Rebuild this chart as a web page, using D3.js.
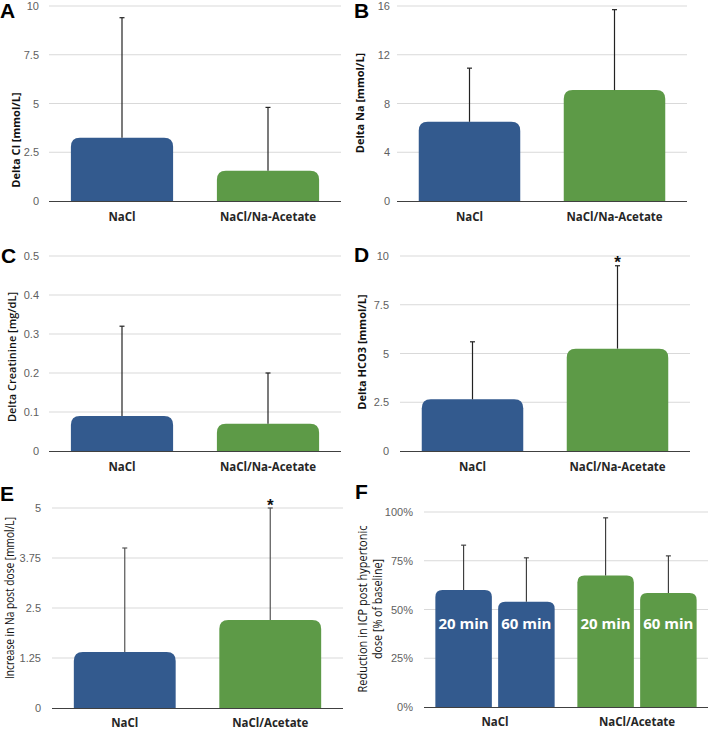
<!DOCTYPE html>
<html><head><meta charset="utf-8">
<script src="https://cdn.jsdelivr.net/npm/d3@7"></script>
<style>body{margin:0;background:#fff}svg{display:block}</style>
</head><body>
<svg id="c" width="709" height="730"></svg>
<script>
// ---- data ----
const groups2 = ["NaCl", "NaCl/Na-Acetate"];
const groupsE = ["NaCl", "NaCl/Acetate"];
const timepoints = ["20 min", "60 min"];

const deltaCl = [3.25, 1.55];       const deltaClSD = [6.15, 3.25];
const deltaNa = [6.5, 9.1];         const deltaNaSD = [4.4, 6.6];
const deltaCrea = [0.09, 0.07];     const deltaCreaSD = [0.23, 0.13];
const deltaHCO3 = [2.65, 5.25];     const deltaHCO3SD = [2.95, 4.25];
const incNa = [1.4, 2.2];           const incNaSD = [2.6, 2.8];
const icpNaCl = [60, 54];           const icpNaClSD = [23, 22.5];
const icpAcetate = [67.5, 58.5];    const icpAcetateSD = [29.5, 19];

const ticksA = [0, 2.5, 5, 7.5, 10];
const ticksB = [0, 4, 8, 12, 16];
const ticksC = [0, 0.1, 0.2, 0.3, 0.4, 0.5];
const ticksD = [0, 2.5, 5, 7.5, 10];
const ticksE = [0, 1.25, 2.5, 3.75, 5];
const ticksF = [0, 25, 50, 75, 100];

const BLUE = "#335a8e", GREEN = "#5d9a47";
const colors = [BLUE, GREEN];

const svg = d3.select("#c");

function topRounded(x, y, w, y0, r) {
  r = Math.min(r, w / 2, Math.max(0, y0 - y));
  return `M${x},${y0}V${y + r}Q${x},${y} ${x + r},${y}H${x + w - r}Q${x + w},${y} ${x + w},${y + r}V${y0}Z`;
}

function panel(cfg) {
  const g = svg.append("g");
  const y = d3.scaleLinear().domain([0, cfg.ticks[cfg.ticks.length - 1]]).range([cfg.y1, cfg.y0]);
  g.selectAll("line.grid").data(cfg.ticks.filter(t => t > 0)).join("line")
    .attr("x1", cfg.x0).attr("x2", cfg.x1)
    .attr("y1", d => y(d)).attr("y2", d => y(d))
    .attr("stroke", "#d9d9d9").attr("stroke-width", 1);
  const ax = g.append("g").attr("transform", `translate(${cfg.tickX},0)`)
    .call(d3.axisLeft(y).tickValues(cfg.ticks).tickSize(0).tickPadding(0).tickFormat(cfg.fmt));
  ax.select(".domain").remove();
  ax.selectAll("text").attr("font-family", "Liberation Sans, Arial, sans-serif")
    .attr("font-size", 11).attr("fill", "#5f5f5f").attr("text-anchor", "end");

  const x = d3.scaleBand().domain(cfg.cats).range([cfg.x0, cfg.x1]).paddingInner(cfg.pi).paddingOuter(cfg.po);

  if (!cfg.sub) {
    const bars = cfg.cats.map((c, i) => ({c, v: cfg.vals[i], sd: cfg.sds[i], col: colors[i]}));
    g.selectAll("path.bar").data(bars).join("path")
      .attr("d", d => topRounded(x(d.c), y(d.v), x.bandwidth(), y(0), 9))
      .attr("fill", d => d.col);
    g.selectAll("line.err").data(bars).join("line").attr("class", "err")
      .attr("x1", d => x(d.c) + x.bandwidth() / 2).attr("x2", d => x(d.c) + x.bandwidth() / 2)
      .attr("y1", d => y(d.v)).attr("y2", d => y(d.v + d.sd))
      .attr("stroke", cfg.errCol || "#222").attr("stroke-width", 1.2);
    g.selectAll("line.cap").data(bars).join("line").attr("class", "cap")
      .attr("x1", d => x(d.c) + x.bandwidth() / 2 - 2.5).attr("x2", d => x(d.c) + x.bandwidth() / 2 + 2.5)
      .attr("y1", d => y(d.v + d.sd)).attr("y2", d => y(d.v + d.sd))
      .attr("stroke", cfg.errCol || "#222").attr("stroke-width", 1.2);
    if (cfg.star != null) {
      const d = bars[cfg.star];
      g.append("text").attr("x", x(d.c) + x.bandwidth() / 2).attr("y", cfg.starY)
        .attr("text-anchor", "middle").attr("font-family", "Liberation Sans, Arial, sans-serif")
        .attr("font-weight", "bold").attr("font-size", 17).attr("fill", "#111").text("*");
    }
  } else {
    const x1 = d3.scaleBand().domain(timepoints).range([0, x.bandwidth()]).paddingInner(0.1);
    cfg.cats.forEach((c, i) => {
      const bars = timepoints.map((t, j) => ({t, v: cfg.sub[i][j], sd: cfg.subSD[i][j]}));
      const gg = g.append("g").attr("transform", `translate(${x(c)},0)`);
      gg.selectAll("path").data(bars).join("path")
        .attr("d", d => topRounded(x1(d.t), y(d.v), x1.bandwidth(), y(0), 7))
        .attr("fill", colors[i]);
      gg.selectAll("line.err").data(bars).join("line").attr("class", "err")
        .attr("x1", d => x1(d.t) + x1.bandwidth() / 2).attr("x2", d => x1(d.t) + x1.bandwidth() / 2)
        .attr("y1", d => y(d.v)).attr("y2", d => y(d.v + d.sd))
        .attr("stroke", "#333").attr("stroke-width", 1.1);
      gg.selectAll("line.cap").data(bars).join("line").attr("class", "cap")
        .attr("x1", d => x1(d.t) + x1.bandwidth() / 2 - 2.5).attr("x2", d => x1(d.t) + x1.bandwidth() / 2 + 2.5)
        .attr("y1", d => y(d.v + d.sd)).attr("y2", d => y(d.v + d.sd))
        .attr("stroke", "#333").attr("stroke-width", 1.1);
      gg.selectAll("text.bl").data(bars).join("text").attr("class", "bl")
        .attr("x", d => x1(d.t) + x1.bandwidth() / 2).attr("y", cfg.barTextY)
        .attr("text-anchor", "middle").attr("font-family", "Open Sans, sans-serif")
        .attr("font-weight", "bold").attr("font-size", 15).attr("fill", "#fff").text(d => d.t);
    });
  }
  g.append("line").attr("x1", cfg.x0).attr("x2", cfg.x1).attr("y1", y(0) + 0.5).attr("y2", y(0) + 0.5)
    .attr("stroke", "#404040").attr("stroke-width", 1.2);
  g.selectAll("text.cat").data(cfg.cats).join("text").attr("class", "cat")
    .attr("x", d => x(d) + x.bandwidth() / 2).attr("y", cfg.catY)
    .attr("text-anchor", "middle").attr("font-family", "Open Sans, sans-serif")
    .attr("font-weight", "bold").attr("font-size", 11.5).attr("fill", "#262626").text(d => d);
  const dx = cfg.titleDX || 0;
  cfg.title.forEach((line, k) => {
    const t = g.append("text").attr("transform", `translate(${cfg.titleX + k * dx},${cfg.titleY}) rotate(-90)`)
      .attr("text-anchor", "middle").attr("font-family", "Open Sans, sans-serif")
      .attr("font-weight", cfg.titleW || "bold").attr("font-size", cfg.titleSize || 11)
      .attr("fill", "#111").text(line);
    if (cfg.titleLen) t.attr("textLength", cfg.titleLen[k]).attr("lengthAdjust", "spacingAndGlyphs");
  });
  svg.append("text").attr("x", cfg.lx).attr("y", cfg.ly).attr("font-family", "Liberation Sans, Arial, sans-serif")
    .attr("font-weight", "bold").attr("font-size", 21).attr("fill", "#000").text(cfg.letter);
}

const fmtNum = d => String(d);
panel({letter: "A", lx: 0, ly: 18, x0: 49, x1: 341, y0: 6, y1: 201, tickX: 39, ticks: ticksA, fmt: fmtNum,
  cats: groups2, vals: deltaCl, sds: deltaClSD, pi: 0.3, po: 0.15, catY: 221,
  title: ["Delta Cl [mmol/L]"], titleX: 20, titleY: 140});
panel({letter: "B", lx: 354, ly: 18, x0: 397, x1: 687, y0: 6, y1: 201, tickX: 390, ticks: ticksB, fmt: fmtNum,
  cats: groups2, vals: deltaNa, sds: deltaNaSD, pi: 0.3, po: 0.15, catY: 221,
  title: ["Delta Na [mmol/L]"], titleX: 364, titleY: 103});
panel({letter: "C", lx: 1, ly: 263, x0: 49, x1: 341, y0: 256, y1: 451, tickX: 39, ticks: ticksC, fmt: fmtNum,
  cats: groups2, vals: deltaCrea, sds: deltaCreaSD, pi: 0.3, po: 0.15, catY: 471,
  title: ["Delta Creatinine [mg/dL]"], titleX: 16, titleY: 357, titleW: 600});
panel({letter: "D", lx: 354, ly: 262, x0: 400, x1: 690, y0: 256, y1: 451, tickX: 389, ticks: ticksD, fmt: fmtNum,
  cats: groups2, vals: deltaHCO3, sds: deltaHCO3SD, pi: 0.3, po: 0.15, catY: 471, star: 1, starY: 268,
  title: ["Delta HCO3 [mmol/L]"], titleX: 366, titleY: 352});
panel({letter: "E", lx: 0, ly: 501, x0: 52, x1: 343, y0: 508, y1: 708, tickX: 41, ticks: ticksE, fmt: fmtNum,
  cats: groupsE, vals: incNa, sds: incNaSD, pi: 0.3, po: 0.15, catY: 727, star: 1, starY: 511, errCol: "#555",
  title: ["Increase in Na post dose [mmol/L]"], titleX: 14, titleY: 598, titleW: "normal", titleSize: 13, titleLen: [162]});
panel({letter: "F", lx: 355, ly: 499, x0: 424, x1: 708, y0: 512, y1: 707, tickX: 413, ticks: ticksF, fmt: d => d + "%",
  cats: groupsE, sub: [icpNaCl, icpAcetate], subSD: [icpNaClSD, icpAcetateSD], pi: 0.16, po: 0.08, catY: 726, barTextY: 629,
  title: ["Reduction in ICP post hypertonic", "dose [% of baseline]"], titleX: 367, titleDX: 15, titleY: 609, titleW: "normal", titleSize: 12, titleLen: [167, 100]});
</script>
</body></html>
